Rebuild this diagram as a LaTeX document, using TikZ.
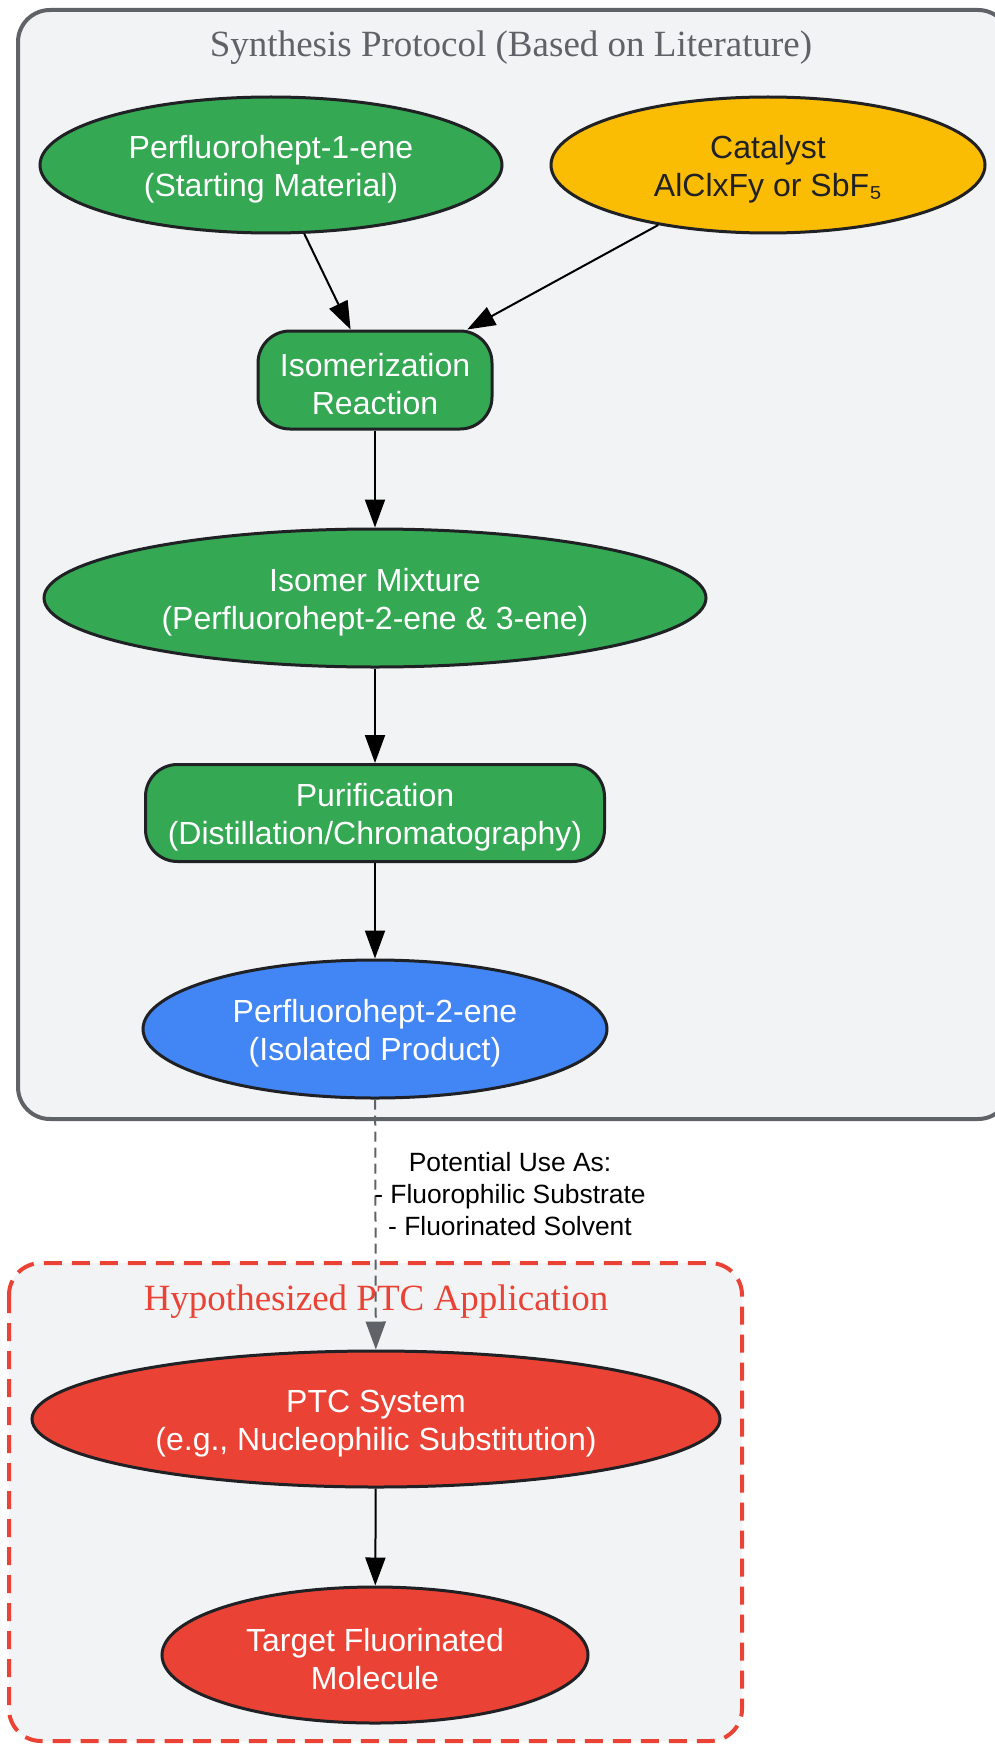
\documentclass[tikz,border=0pt]{standalone}
\usepackage{fontspec}
\setmainfont{Liberation Sans}
\newfontfamily\titlefont{Liberation Serif}
\usetikzlibrary{shapes.geometric,arrows.meta}
\definecolor{cgreen}{HTML}{34A853}
\definecolor{cyellow}{HTML}{FBBC04}
\definecolor{cblue}{HTML}{4285F4}
\definecolor{cred}{HTML}{EA4335}
\definecolor{cfill}{HTML}{F1F3F4}
\definecolor{cgray}{HTML}{5F6368}
\definecolor{cdark}{HTML}{202124}
\newcommand\topstrut{\rule{0pt}{16pt}}
\tikzset{
  ell/.style={ellipse, draw=cdark, line width=1.5pt, inner sep=0pt, align=center,
    text=white, font=\fontsize{16}{19}\selectfont},
  rbox/.style={rectangle, rounded corners=16pt, draw=cdark, line width=1.5pt, inner sep=0pt,
    align=center, text=white, font=\fontsize{16}{19}\selectfont, fill=cgreen},
  arr/.style={line width=1pt, -{Triangle[length=14pt,width=10pt]}},
  clustertitle/.style={font=\titlefont\fontsize{18.5}{22}\selectfont}
}
\begin{document}
\begin{tikzpicture}[x=0.5pt,y=-0.5pt]
\useasboundingbox (0,0) rectangle (995,1744);
\clip (0,0) rectangle (995,1744);
% clusters
\draw[cgray, fill=cfill, line width=2pt, rounded corners=16pt] (18,10) rectangle (1010,1119);
\node[clustertitle, text=cgray] (t1) at (511,48) {Synthesis Protocol (Based on Literature)};
\draw[cred, fill=cfill, line width=2pt, rounded corners=16pt, dash pattern=on 9pt off 5pt] (9,1263) rectangle (742,1741);
\node[clustertitle, text=cred] (t2) at (376,1302) {Hypothesized PTC Application};
% nodes
\node[ell, fill=cgreen, minimum width=231pt, minimum height=68pt] (p1) at (271,165) {\topstrut Perfluorohept-1-ene\\(Starting Material)};
\node[ell, fill=cyellow, text=cdark, minimum width=217pt, minimum height=68pt] (cat) at (768,165) {\topstrut Catalyst\\AlClxFy or SbF₅};
\node[rbox, minimum width=117pt, minimum height=49pt] (iso) at (375,380) {\topstrut Isomerization\\Reaction};
\node[ell, fill=cgreen, minimum width=331pt, minimum height=69pt] (mix) at (375,598) {\topstrut Isomer Mixture\\(Perfluorohept-2-ene \& 3-ene)};
\node[rbox, minimum width=229.5pt, minimum height=48.5pt] (pur) at (375,813) {\topstrut Purification\\(Distillation/Chromatography)};
\node[ell, fill=cblue, minimum width=232pt, minimum height=69pt] (p2) at (375,1029) {\topstrut Perfluorohept-2-ene\\(Isolated Product)};
\node[ell, fill=cred, minimum width=344pt, minimum height=68pt] (ptc) at (376,1419) {\topstrut PTC System\\(e.g., Nucleophilic Substitution)};
\node[ell, fill=cred, minimum width=213pt, minimum height=68pt] (tgt) at (375,1655) {\topstrut Target Fluorinated\\Molecule};
% edges
\draw[arr] (p1) -- (iso);
\draw[arr] (cat) -- (iso);
\draw[arr] (iso) -- (mix);
\draw[arr] (mix) -- (pur);
\draw[arr] (pur) -- (p2);
\draw[arr, cgray, dash pattern=on 5pt off 3pt] (p2) -- (ptc);
\draw[arr] (ptc) -- (tgt);
\node[align=center, font=\fontsize{13.2}{16}\selectfont] (lbl) at (510,1194) {Potential Use As:\\- Fluorophilic Substrate\\- Fluorinated Solvent};
\end{tikzpicture}
\end{document}
